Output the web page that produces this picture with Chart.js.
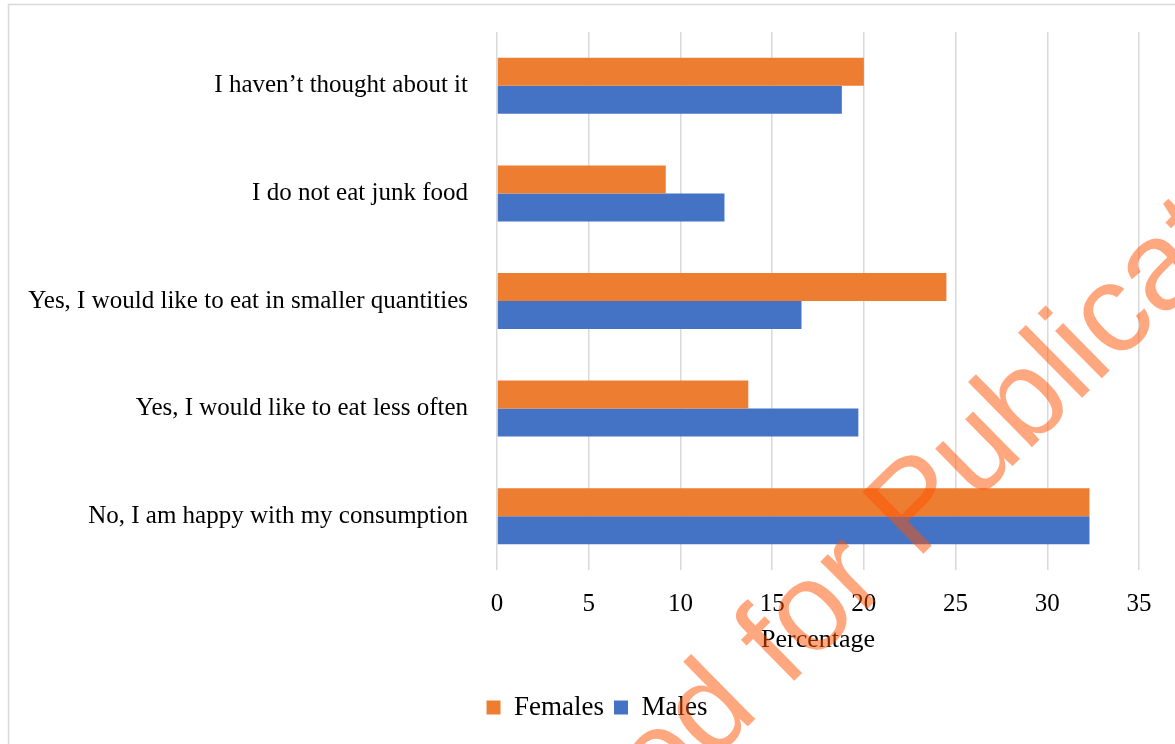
<!DOCTYPE html>
<html>
<head>
<meta charset="utf-8">
<script src="https://cdn.jsdelivr.net/npm/chart.js@4/dist/chart.umd.min.js"></script>
<style>
  html, body { margin: 0; padding: 0; background: #fff; }
  canvas { display: block; }
</style>
</head>
<body>
<canvas id="c" width="1175" height="744"></canvas>
<script>
const categories = [
  "I haven\u2019t thought about it",
  "I do not eat junk food",
  "Yes, I would like to eat in smaller quantities",
  "Yes, I would like to eat less often",
  "No, I am happy with my consumption"
];
const females = [20.0, 9.2, 24.5, 13.7, 32.3];
const males = [18.8, 12.4, 16.6, 19.7, 32.3];
const seriesNames = ["Females", "Males"];
const axisTitle = "Percentage";
const watermarkBefore = "Accepted for ";
const watermarkAfter = "Publication";

const frame = {
  id: 'frame',
  beforeDraw(chart) {
    const ctx = chart.ctx;
    ctx.save();
    ctx.fillStyle = '#ffffff';
    ctx.fillRect(0, 0, chart.width, chart.height);
    ctx.strokeStyle = '#d9d9d9';
    ctx.lineWidth = 1.5;
    ctx.strokeRect(8.5, 4.5, 1300, 900);
    ctx.restore();
  }
};

const watermark = {
  id: 'watermark',
  afterDraw(chart) {
    const ctx = chart.ctx;
    ctx.save();
    ctx.translate(916, 561);
    ctx.rotate(-44.5 * Math.PI / 180);
    ctx.font = '126px "Liberation Sans", Arial, sans-serif';
    ctx.fillStyle = 'rgba(255, 82, 0, 0.5)';
    ctx.textBaseline = 'alphabetic';
    ctx.textAlign = 'right';
    ctx.fillText(watermarkBefore, 0, 0);
    ctx.textAlign = 'left';
    ctx.fillText(watermarkAfter, 0, 0);
    ctx.restore();
  }
};

const serif = '"Liberation Serif", "Times New Roman", serif';

new Chart(document.getElementById('c'), {
  type: 'bar',
  data: {
    labels: categories,
    datasets: [
      { label: seriesNames[0], data: females, backgroundColor: '#ED7D31', categoryPercentage: 0.52, barPercentage: 1.0 },
      { label: seriesNames[1], data: males, backgroundColor: '#4472C4', categoryPercentage: 0.52, barPercentage: 1.0 }
    ]
  },
  options: {
    indexAxis: 'y',
    responsive: false,
    animation: false,
    devicePixelRatio: 1,
    layout: { padding: { left: 20, right: 1, top: 32, bottom: 13 } },
    plugins: {
      legend: {
        position: 'bottom',
        labels: {
          boxWidth: 14,
          boxHeight: 14,
          padding: 10,
          color: '#000',
          font: { family: serif, size: 27 }
        }
      },
      tooltip: { enabled: false }
    },
    scales: {
      x: {
        min: 0,
        max: 35,
        ticks: { stepSize: 5, color: '#000', padding: 19, font: { family: serif, size: 25 } },
        grid: { color: '#d9d9d9', lineWidth: 1.5, drawTicks: false },
        border: { display: false },
        title: { display: true, text: axisTitle, color: '#000', font: { family: serif, size: 26 }, padding: { top: 0, bottom: 28 } },
        afterFit(scale) { scale.height = 114; }
      },
      y: {
        ticks: { color: '#000', padding: 29, font: { family: serif, size: 25 } },
        grid: { display: false, drawTicks: false },
        border: { display: false },
        afterFit(scale) { scale.width = 477; scale.paddingTop = 0; scale.paddingBottom = 0; }
      },
      ySpacer: {
        type: 'category',
        position: 'right',
        ticks: { display: false },
        grid: { display: false, drawTicks: false },
        border: { display: false },
        afterFit(scale) { scale.width = 35; scale.paddingTop = 0; scale.paddingBottom = 0; }
      }
    }
  },
  plugins: [frame, watermark]
});
</script>
</body>
</html>
